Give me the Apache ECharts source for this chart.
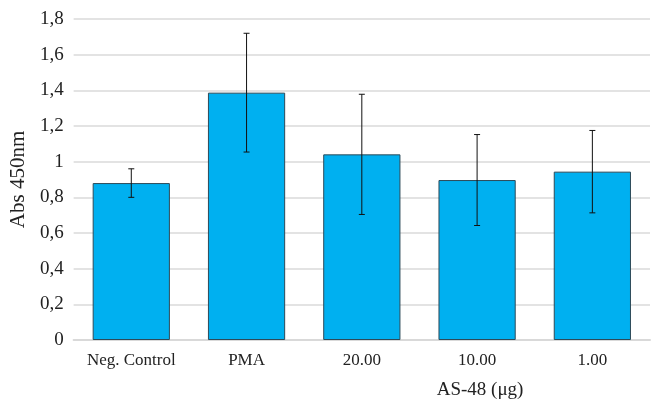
<!DOCTYPE html>
<html>
<head>
<meta charset="utf-8">
<script src="https://cdn.jsdelivr.net/npm/echarts@6/dist/echarts.min.js"></script>
<style>
  html, body { margin: 0; padding: 0; background: #fff; }
  #main { width: 656px; height: 399px; }
</style>
</head>
<body>
<div id="main"></div>
<script>
const categories = ['Neg. Control', 'PMA', '20.00', '10.00', '1.00'];
const values = [0.88, 1.387, 1.041, 0.897, 0.944];
const errors = [0.08, 0.333, 0.337, 0.255, 0.231];
const yTicks = [0, 0.2, 0.4, 0.6, 0.8, 1, 1.2, 1.4, 1.6, 1.8];

const font = '"Liberation Serif", "DejaVu Serif", serif';

const chart = echarts.init(document.getElementById('main'));

// error bar: vertical line with short caps at both ends
function renderError(params, api) {
  const idx = api.value(0);
  const lo = api.coord([idx, api.value(1)]);
  const hi = api.coord([idx, api.value(2)]);
  const cap = 3;
  const style = { stroke: '#111', lineWidth: 1 };
  return {
    type: 'group',
    children: [
      { type: 'line', shape: { x1: hi[0], y1: hi[1], x2: lo[0], y2: lo[1] }, style: style },
      { type: 'line', shape: { x1: hi[0] - cap, y1: hi[1], x2: hi[0] + cap, y2: hi[1] }, style: style },
      { type: 'line', shape: { x1: lo[0] - cap, y1: lo[1], x2: lo[0] + cap, y2: lo[1] }, style: style }
    ]
  };
}

const option = {
  animation: false,
  grid: { left: 70, right: 6, top: 19, bottom: 59 },
  xAxis: {
    type: 'category',
    data: categories,
    axisLine: { show: true, lineStyle: { color: '#d9d9d9', width: 2 } },
    axisTick: { show: false },
    axisLabel: { interval: 0, color: '#222', fontFamily: font, fontSize: 17, margin: 12 }
  },
  yAxis: {
    type: 'value',
    min: 0,
    max: yTicks[yTicks.length - 1],
    interval: 0.2,
    name: 'Abs 450nm',
    nameLocation: 'middle',
    nameGap: 39,
    nameTextStyle: { color: '#222', fontFamily: font, fontSize: 21 },
    axisLine: { show: false },
    axisTick: { show: false },
    splitLine: { lineStyle: { color: '#e3e3e3', width: 2 } },
    axisLabel: {
      color: '#222', fontFamily: font, fontSize: 19, margin: 10,
      formatter: function (v) { return String(Number(v.toFixed(1))).replace('.', ','); }
    }
  },
  series: [
    {
      type: 'bar',
      data: values,
      barWidth: '67%',
      itemStyle: { color: '#00b0f0', borderColor: '#2d4a58', borderWidth: 1 }
    },
    {
      type: 'custom',
      renderItem: renderError,
      data: values.map(function (v, i) { return [i, v - errors[i], v + errors[i]]; }),
      z: 10
    }
  ]
};

chart.setOption(option);

// group label under the AS-48 doses, centred on the middle dose
const mid = chart.convertToPixel({ xAxisIndex: 0 }, '10.00');
chart.setOption({
  graphic: [{
    type: 'text',
    x: mid + 3,
    y: 390,
    style: {
      text: 'AS-48 (μg)',
      font: '19px ' + font,
      fill: '#222',
      textAlign: 'center',
      textVerticalAlign: 'middle'
    }
  }]
});
</script>
</body>
</html>
